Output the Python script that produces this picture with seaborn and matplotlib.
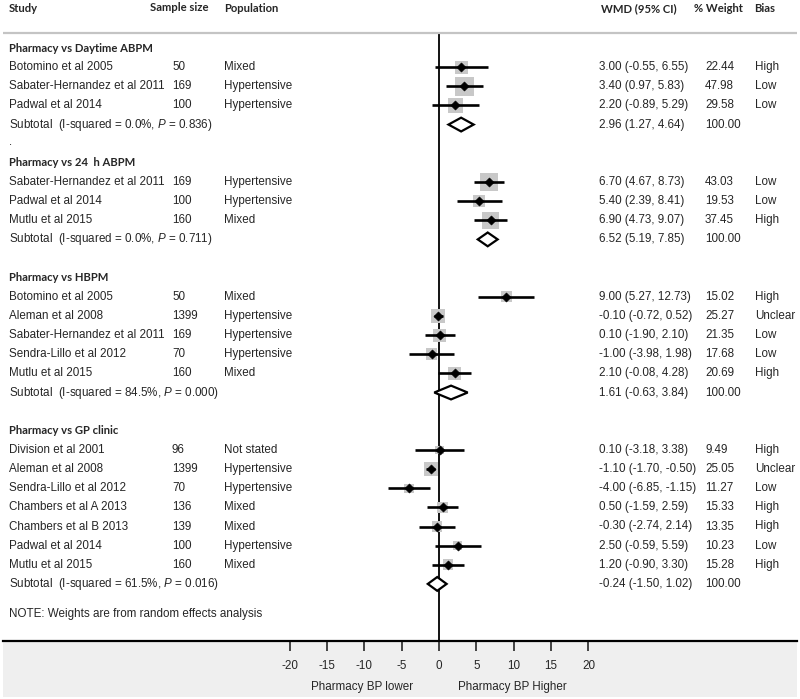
import numpy as np
import pandas as pd
import matplotlib
matplotlib.use("Agg")
import matplotlib.pyplot as plt
from matplotlib.patches import Rectangle
import seaborn as sns

# ---------------------------------------------------------------
# dados (forest plot, WMD e IC 95%)
# ---------------------------------------------------------------
groups = ["Pharmacy vs Daytime ABPM", "Pharmacy vs 24  h ABPM",
          "Pharmacy vs HBPM", "Pharmacy vs GP clinic"]

group_of = [0, 0, 0,
            1, 1, 1,
            2, 2, 2, 2, 2,
            3, 3, 3, 3, 3, 3, 3]
study = ["Botomino et al 2005", "Sabater-Hernandez et al 2011", "Padwal et al 2014",
         "Sabater-Hernandez et al 2011", "Padwal et al 2014", "Mutlu et al 2015",
         "Botomino et al 2005", "Aleman et al 2008", "Sabater-Hernandez et al 2011",
         "Sendra-Lillo et al 2012", "Mutlu et al 2015",
         "Division et al 2001", "Aleman et al 2008", "Sendra-Lillo et al 2012",
         "Chambers et al A 2013", "Chambers et al B 2013", "Padwal et al 2014",
         "Mutlu et al 2015"]
sample_size = [50, 169, 100,
               169, 100, 160,
               50, 1399, 169, 70, 160,
               96, 1399, 70, 136, 139, 100, 160]
population = ["Mixed", "Hypertensive", "Hypertensive",
              "Hypertensive", "Hypertensive", "Mixed",
              "Mixed", "Hypertensive", "Hypertensive", "Hypertensive", "Mixed",
              "Not stated", "Hypertensive", "Hypertensive", "Mixed", "Mixed",
              "Hypertensive", "Mixed"]
wmd = [3.00, 3.40, 2.20,
       6.70, 5.40, 6.90,
       9.00, -0.10, 0.10, -1.00, 2.10,
       0.10, -1.10, -4.00, 0.50, -0.30, 2.50, 1.20]
ci_low = [-0.55, 0.97, -0.89,
          4.67, 2.39, 4.73,
          5.27, -0.72, -1.90, -3.98, -0.08,
          -3.18, -1.70, -6.85, -1.59, -2.74, -0.59, -0.90]
ci_high = [6.55, 5.83, 5.29,
           8.73, 8.41, 9.07,
           12.73, 0.52, 2.10, 1.98, 4.28,
           3.38, -0.50, -1.15, 2.59, 2.14, 5.59, 3.30]
weight = [22.44, 47.98, 29.58,
          43.03, 19.53, 37.45,
          15.02, 25.27, 21.35, 17.68, 20.69,
          9.49, 25.05, 11.27, 15.33, 13.35, 10.23, 15.28]
bias = ["High", "Low", "Low",
        "Low", "Low", "High",
        "High", "Unclear", "Low", "Low", "High",
        "High", "Unclear", "Low", "High", "High", "Low", "High"]

sub_i2 = ["0.0", "0.0", "84.5", "61.5"]
sub_p = ["0.836", "0.711", "0.000", "0.016"]
sub_est = [2.96, 6.52, 1.61, -0.24]
sub_low = [1.27, 5.19, -0.63, -1.50]
sub_high = [4.64, 7.85, 3.84, 1.02]

ticks = [-20, -15, -10, -5, 0, 5, 10, 15, 20]

# ---------------------------------------------------------------
# posições das linhas
# ---------------------------------------------------------------
row = []
group_row = []
sub_row = []
r = 0
for g in range(len(groups)):
    group_row.append(r)
    r += 1
    for k in range(len(study)):
        if group_of[k] == g:
            row.append(r)
            r += 1
    sub_row.append(r)
    r += 2

df = pd.DataFrame({"row": row, "wmd": wmd, "lo": ci_low, "hi": ci_high,
                   "weight": weight})

# ---------------------------------------------------------------
# figura
# ---------------------------------------------------------------
sns.set_style("white")
plt.rcParams["font.family"] = ["Liberation Sans", "DejaVu Sans"]
plt.rcParams["mathtext.fontset"] = "custom"
plt.rcParams["mathtext.rm"] = "Liberation Sans"
plt.rcParams["mathtext.it"] = "Liberation Sans:italic"

W, H = 800, 699
fig = plt.figure(figsize=(8, 6.99), dpi=100)
ax_bottom_px = 641
ax = fig.add_axes([3 / W, (H - ax_bottom_px) / H, 794 / W, ax_bottom_px / H])

x0_px, px_per_unit = 439, 7.47
y0_px, px_per_row = 48, 19.14


def px2x(px):
    return (px - x0_px) / px_per_unit


def py2row(py):
    return (py - y0_px) / px_per_row


ax.set_xlim(px2x(3), px2x(797))
ax.set_ylim(py2row(ax_bottom_px), py2row(0))

# faixa cinza inferior
fig.patches.append(Rectangle((3 / W, 2 / H), 794 / W, (697 - ax_bottom_px) / H,
                             transform=fig.transFigure, facecolor="#efefef",
                             edgecolor="none", zorder=-1))

# linha de nulidade e linha do cabeçalho
ax.vlines(0, py2row(33), py2row(ax_bottom_px), color="black", lw=1.3, zorder=2)
ax.axhline(py2row(32.5), color="#c4c4c4", lw=1.6)

# quadrados ponderados
sns.scatterplot(data=df, x="wmd", y="row", size="weight", sizes=(0, 400),
                size_norm=(0, 100), marker="s", color="#c8c8c8",
                edgecolor="none", legend=False, ax=ax, zorder=3)
ax.hlines(df["row"], df["lo"], df["hi"], color="black", lw=1.9, zorder=4)
sns.scatterplot(data=df, x="wmd", y="row", marker="D", color="black", s=22,
                edgecolor="black", legend=False, ax=ax, zorder=5)

# diamantes dos subtotais
hh = 0.36
for g in range(len(groups)):
    y = sub_row[g]
    ax.fill([sub_low[g], sub_est[g], sub_high[g], sub_est[g]],
            [y, y - hh, y, y + hh], facecolor="white", edgecolor="black",
            lw=1.6, zorder=4)

# ---------------------------------------------------------------
# textos
# ---------------------------------------------------------------
fs = 8.4
bold = dict(family=["Lato", "DejaVu Sans"], fontweight="bold", fontsize=8.1)
hdr_row = py2row(9)
ax.text(px2x(9), hdr_row, "Study", va="center", **bold)
ax.text(px2x(150), hdr_row - 0.1, "Sample size", va="center", **bold)
ax.text(px2x(224), hdr_row, "Population", va="center", **bold)
ax.text(px2x(601), hdr_row, "WMD (95% CI)", va="center", **bold)
ax.text(px2x(694), hdr_row, "% Weight", va="center", **bold)
ax.text(px2x(754), hdr_row, "Bias", va="center", **bold)

col = dict(va="center", fontsize=fs)
for g in range(len(groups)):
    ax.text(px2x(9), group_row[g], groups[g], va="center", **bold)
    ax.text(px2x(9), sub_row[g],
            f"Subtotal  (I-squared = {sub_i2[g]}%, $P$ = {sub_p[g]})", **col)
    ax.text(px2x(599), sub_row[g],
            f"{sub_est[g]:.2f} ({sub_low[g]:.2f}, {sub_high[g]:.2f})", **col)
    ax.text(px2x(705), sub_row[g], "100.00", **col)

ax.text(px2x(9), sub_row[0] + 0.9, ".", **col)

for k in range(len(study)):
    y = row[k]
    ax.text(px2x(9), y, study[k], **col)
    ax.text(px2x(172), y, str(sample_size[k]), **col)
    ax.text(px2x(224), y, population[k], **col)
    ax.text(px2x(599), y, f"{wmd[k]:.2f} ({ci_low[k]:.2f}, {ci_high[k]:.2f})", **col)
    ax.text(px2x(705), y, f"{weight[k]:.2f}", **col)
    ax.text(px2x(755), y, bias[k], **col)

ax.text(px2x(9), py2row(614), "NOTE: Weights are from random effects analysis", **col)

# eixo x
sns.despine(ax=ax, left=True, top=True, right=True)
ax.spines["bottom"].set_linewidth(1.6)
ax.spines["bottom"].set_color("black")
ax.set_xticks(ticks)
ax.set_xticklabels([str(t) for t in ticks])
ax.tick_params(axis="x", direction="out", length=7, width=1.2, pad=7,
               labelsize=fs, bottom=True)
ax.set_yticks([])
ax.set_xlabel("")
ax.set_ylabel("")
ax.patch.set_alpha(0)

fig.text(362 / W, 1 - 687 / H, "Pharmacy BP lower", ha="center", va="center", fontsize=fs)
fig.text(512 / W, 1 - 687 / H, "Pharmacy BP Higher", ha="center", va="center", fontsize=fs)

fig.savefig("out.png", dpi=100)
